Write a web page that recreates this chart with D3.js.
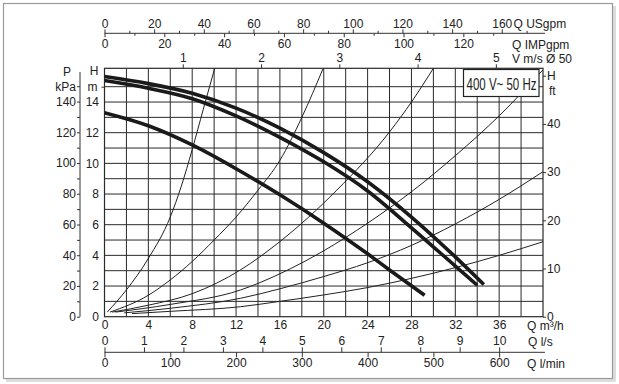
<!DOCTYPE html>
<html lang="en">
<head>
<meta charset="utf-8">
<title>Pump curve 400 V~ 50 Hz</title>
<script src="https://d3js.org/d3.v7.min.js"></script>
<style>
  body { margin: 0; background: #fff; }
  text { font-family: "Liberation Sans", Arial, sans-serif; font-size: 12px; fill: #222; }
  .axis path.domain { display: none; }
  .axis line { stroke: #333; }
</style>
</head>
<body>
<svg id="chart" width="619" height="384"></svg>
<script>
// pump curves  [Q m3/h, H m]
var pumpA = [[0,15.66],[4,15.2],[8,14.57],[12,13.6],[16,12.3],[20,10.7],[24,8.8],[28,6.5],[32,3.9],[34.6,2.1]]
var pumpB = [[0,15.4],[4,14.9],[8,14.22],[12,13.1],[16,11.7],[20,10.1],[24,8.2],[28,5.8],[32,3.3],[34,2.05]]
var pumpC = [[0,13.3],[4,12.45],[8,11.2],[12,9.65],[16,7.95],[20,6.1],[24,4.1],[26,3.05],[29.2,1.4]]

// system / loss curves (thin lines)
var sys1 = [[0.25,0.3],[2,1.75],[4,3.8],[6,6.5],[7,8.5],[8,10.9],[9,13.5],[10.05,16.2]]
var sys2 = [[0.5,0.3],[4,1.4],[6,2.4],[8,3.6],[10,5.0],[12,6.5],[14,8.25],[16,10.2],[18,13.0],[19.95,16.2]]
var sys3 = [[0.7,0.3],[4,0.75],[8,1.5],[12.4,3.05],[16,4.9],[21.2,8.26],[26,12.05],[28,14.0],[30,16.2]]
var sys4 = [[1,0.3],[6,0.8],[12.4,1.74],[16,2.8],[20,4.3],[24,6.1],[28.2,8.26],[32,10.5],[36,13.1],[40,16.1]]
var sys5 = [[1.8,0.25],[6,0.55],[12.4,1.2],[16,1.82],[20,2.62],[24,3.52],[28,4.65],[32,6.05],[36,7.65],[40,9.46]]
var sys6 = [[2.5,0.2],[6,0.35],[12.4,0.65],[16,1.0],[20,1.42],[24,1.9],[28,2.5],[32,3.2],[36,4.0],[40,4.89]]

// tick labels
var qTicks = [0,4,8,12,16,20,24,28,32,36]
var hmTicks = [0,2,4,6,8,10,12,14]
var pTicks = [0,20,40,60,80,100,120,140]
var ftTicks = [0,10,20,30,40]
var usTicks = [0,20,40,60,80,100,120,140,160]
var impTicks = [0,20,40,60,80,100,120]
var velTicks = [1,2,3,4,5]
var lsTicks = [0,1,2,3,4,5,6,7,8,9,10]
var lminTicks = [0,100,200,300,400,500,600]

// unit conversions to m3/h (as printed on the sheet)
var usgpm = 0.2265, impgpm = 0.27277, vel50 = 7.14, ls = 3.6, lmin = 0.06

var qMax = 40, hMax = 16.2
var plotL = 104.5, plotR = 543, plotT = 68.3, plotB = 316.7

var svg = d3.select("#chart")

// card border
svg.append("line").attr("x1", 6).attr("x2", 615.5).attr("y1", 380.5).attr("y2", 380.5).attr("stroke", "#ddd").attr("stroke-width", 3)
svg.append("line").attr("x1", 614.5).attr("x2", 614.5).attr("y1", 6).attr("y2", 381).attr("stroke", "#ddd").attr("stroke-width", 3)
svg.append("rect").attr("x", 3.5).attr("y", 3.5).attr("width", 609).attr("height", 375)
  .attr("fill", "#fff").attr("stroke", "#9a9a9a").attr("stroke-width", 1.2)

var x = d3.scaleLinear().domain([0, qMax]).range([plotL, plotR])
var y = d3.scaleLinear().domain([0, hMax]).range([plotB, plotT])
var yP = d3.scaleLinear().domain([0, 150]).range([plotB, 86.2])
var yFt = d3.scaleLinear().domain([0, 50]).range([plotB, 75.7])
var xUS = d3.scaleLinear().domain([0, qMax / usgpm]).range([plotL, plotR])
var xIMP = d3.scaleLinear().domain([0, qMax / impgpm]).range([plotL, plotR])
var xV = d3.scaleLinear().domain([0, qMax / vel50]).range([plotL, plotR])
var xLs = d3.scaleLinear().domain([0, qMax / ls]).range([plotL, plotR])
var xLmin = d3.scaleLinear().domain([0, qMax / lmin]).range([plotL, plotR])

// grid
var grid = svg.append("g").attr("stroke", "#2a2a2a").attr("stroke-width", 1)
grid.selectAll(".v").data(d3.range(2, qMax, 2)).enter().append("line")
  .attr("x1", d => x(d)).attr("x2", d => x(d)).attr("y1", plotT).attr("y2", plotB)
grid.selectAll(".h").data(d3.range(1, 16)).enter().append("line")
  .attr("x1", plotL).attr("x2", plotR).attr("y1", d => y(d)).attr("y2", d => y(d))
grid.append("rect").attr("x", plotL).attr("y", plotT).attr("width", plotR - plotL).attr("height", plotB - plotT)
  .attr("fill", "none").attr("stroke-width", 1.2)

svg.append("clipPath").attr("id", "plotclip").append("rect")
  .attr("x", plotL).attr("y", plotT).attr("width", plotR - plotL).attr("height", plotB - plotT)

var line = d3.line().x(d => x(d[0])).y(d => y(d[1])).curve(d3.curveMonotoneX)

var curves = svg.append("g").attr("clip-path", "url(#plotclip)").attr("fill", "none")
curves.selectAll(".sys").data([sys1, sys2, sys3, sys4, sys5, sys6]).enter().append("path")
  .attr("d", line).attr("stroke", "#222").attr("stroke-width", 1)
curves.selectAll(".pump").data([pumpA, pumpB, pumpC]).enter().append("path")
  .attr("d", line).attr("stroke", "#1a1a1a").attr("stroke-width", 3.6)

// legend box
svg.append("rect").attr("x", 463.5).attr("y", 69.5).attr("width", 75.5).attr("height", 27)
  .attr("fill", "#fff").attr("stroke", "#222").attr("stroke-width", 1.2)
svg.append("text").attr("x", 466.5).attr("y", 89.5).attr("textLength", 70).attr("lengthAdjust", "spacingAndGlyphs")
  .style("font-size", "17px").text("400 V~ 50 Hz")

// bottom Q m3/h labels
svg.append("g").attr("class", "axis").attr("transform", "translate(0," + plotB + ")")
  .call(d3.axisBottom(x).tickValues(qTicks).tickSize(0).tickPadding(4))

// left H m labels
svg.append("g").attr("class", "axis").attr("transform", "translate(" + plotL + ",0)")
  .call(d3.axisLeft(y).tickValues(hmTicks).tickSize(0).tickPadding(5.5))
svg.append("g").attr("class", "axis").attr("transform", "translate(" + plotL + ",0)")
  .call(d3.axisLeft(y).tickValues([15]).tickSize(3).tickPadding(4).tickFormat(() => "m"))
svg.append("text").attr("x", 94).attr("y", 75).attr("text-anchor", "middle").text("H")

// P kPa axis
svg.append("line").attr("x1", 80).attr("x2", 80).attr("y1", 72).attr("y2", plotB).attr("stroke", "#333")
svg.append("g").attr("class", "axis").attr("transform", "translate(80,0)")
  .call(d3.axisLeft(yP).tickValues(pTicks.concat([150])).tickSize(3).tickPadding(1)
    .tickFormat(d => d === 150 ? "kPa" : d))
svg.append("g").attr("class", "axis").attr("transform", "translate(80,0)")
  .call(d3.axisLeft(yP).tickValues(pTicks.slice(1).map(d => d - 10)).tickSize(3).tickFormat(""))
svg.append("text").attr("x", 67).attr("y", 76).attr("text-anchor", "middle").text("P")

// right H ft axis
svg.append("g").attr("class", "axis").attr("transform", "translate(" + plotR + ",0)")
  .call(d3.axisRight(yFt).tickValues(ftTicks.concat([50])).tickSize(3).tickPadding(1)
    .tickFormat(d => d === 50 ? "H" : d))
svg.append("text").attr("x", 549).attr("y", 95).text("ft")

// velocity ticks on top of the plot
svg.append("g").attr("class", "axis").attr("transform", "translate(0," + plotT + ")")
  .call(d3.axisTop(xV).tickValues(velTicks).tickSize(4).tickPadding(2).tickFormat(d3.format("d")))
svg.append("text").attr("x", 512).attr("y", 62.5).text("V m/s Ø 50")

// USgpm / IMPgpm scale
var gpmY = 33.3
svg.append("line").attr("x1", plotL).attr("x2", 545).attr("y1", gpmY).attr("y2", gpmY).attr("stroke", "#333")
svg.append("g").attr("class", "axis").attr("transform", "translate(0," + gpmY + ")")
  .call(d3.axisTop(xUS).tickValues(usTicks).tickSize(4).tickPadding(1))
svg.append("g").attr("class", "axis").attr("transform", "translate(0," + gpmY + ")")
  .call(d3.axisTop(xUS).tickValues(usTicks.map(d => d + 10)).tickSize(2.5).tickFormat(""))
svg.append("g").attr("class", "axis").attr("transform", "translate(0," + gpmY + ")")
  .call(d3.axisBottom(xIMP).tickValues(impTicks).tickSize(4).tickPadding(2.5))
svg.append("g").attr("class", "axis").attr("transform", "translate(0," + gpmY + ")")
  .call(d3.axisBottom(xIMP).tickValues(impTicks.map(d => d + 10)).tickSize(2.5).tickFormat(""))
svg.append("text").attr("x", 513.5).attr("y", 28.3).text("Q USgpm")
svg.append("text").attr("x", 512).attr("y", 49).text("Q IMPgpm")

// l/s and l/min scale
var flowY = 352.3
svg.append("line").attr("x1", plotL).attr("x2", 545).attr("y1", flowY).attr("y2", flowY).attr("stroke", "#333")
svg.append("g").attr("class", "axis").attr("transform", "translate(0," + flowY + ")")
  .call(d3.axisTop(xLs).tickValues(lsTicks).tickSize(5).tickPadding(2))
svg.append("g").attr("class", "axis").attr("transform", "translate(0," + flowY + ")")
  .call(d3.axisBottom(xLmin).tickValues(lminTicks).tickSize(5).tickPadding(1.5))
svg.append("text").attr("x", 527).attr("y", 329.5).text("Q m³/h")
svg.append("text").attr("x", 528).attr("y", 346).text("Q l/s")
svg.append("text").attr("x", 527).attr("y", 367.5).text("Q l/min")
</script>
</body>
</html>
